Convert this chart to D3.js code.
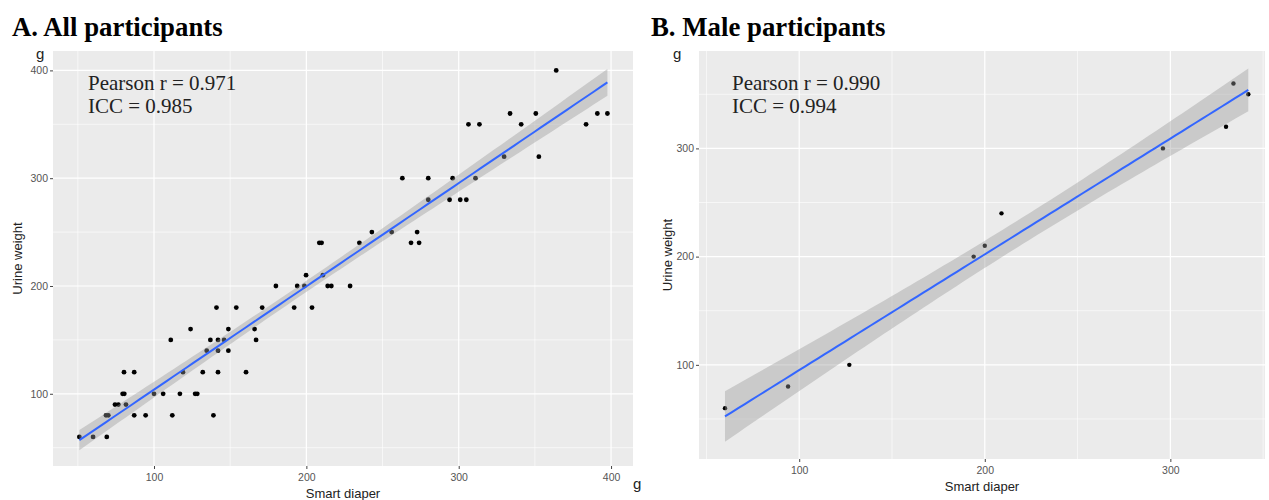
<!DOCTYPE html>
<html>
<head>
<meta charset="utf-8">
<script src="https://cdn.jsdelivr.net/npm/d3@7"></script>
<style>
    body { margin: 0; background: #fff; }
    svg { display: block; }
</style>
</head>
<body>
<script>
// A. all participants (smart diaper g vs urine weight g)
var allSmart = [51, 60, 69,
    68.5, 70, 87, 94.5, 112, 139,
    74.4, 76.6, 81.6,
    79.4, 80.5, 100, 106, 117, 127, 128.4,
    80.3, 87, 119, 132, 142, 160.4,
    134.6, 142, 148.8,
    111, 137, 142, 146, 167,
    124, 148.8, 166,
    141, 154, 171, 192, 203.7,
    180, 194, 198.7, 214, 216.4, 228.7,
    199.8, 210.8,
    208.5, 210, 234.8, 268.7, 274,
    243, 256, 272.7,
    280, 294, 301, 305,
    263, 280, 296, 311,
    329.8, 352.6,
    306.4, 313.6, 341, 383.6,
    333.7, 350.6, 391, 397.6,
    364];
var allUrine = [60, 60, 60,
    80, 80, 80, 80, 80, 80,
    90, 90, 90,
    100, 100, 100, 100, 100, 100, 100,
    120, 120, 120, 120, 120, 120,
    140, 140, 140,
    150, 150, 150, 150, 150,
    160, 160, 160,
    180, 180, 180, 180, 180,
    200, 200, 200, 200, 200, 200,
    210, 210,
    240, 240, 240, 240, 240,
    250, 250, 250,
    280, 280, 280, 280,
    300, 300, 300, 300,
    320, 320,
    350, 350, 350, 350,
    360, 360, 360, 360,
    400];

// B. male participants
var maleSmart = [60, 94, 127, 194, 200, 209, 296, 330, 334, 342];
var maleUrine = [60, 80, 100, 200, 210, 240, 300, 320, 360, 350];

var aTicks = [100, 200, 300, 400], aMinor = [50, 150, 250, 350];
var bTicks = [100, 200, 300], bMinor = [50, 150, 250, 350];
var aStats = ["Pearson r = 0.971", "ICC = 0.985"];
var bStats = ["Pearson r = 0.990", "ICC = 0.994"];

var W = 1269, H = 500;
var svg = d3.select("body").append("svg")
    .attr("width", W)
    .attr("height", H);

// t quantile (0.975) by cornish-fisher expansion
function tq(df) {
    var z = 1.959964;
    return z + (Math.pow(z, 3) + z) / (4 * df)
        + (5 * Math.pow(z, 5) + 16 * Math.pow(z, 3) + 3 * z) / (96 * df * df)
        + (3 * Math.pow(z, 7) + 19 * Math.pow(z, 5) + 17 * Math.pow(z, 3) - 15 * z) / (384 * df * df * df);
}

function fit(xs, ys) {
    var n = xs.length, mx = d3.mean(xs), my = d3.mean(ys);
    var sxx = 0, sxy = 0;
    xs.forEach(function(x, i) { sxx += (x - mx) * (x - mx); sxy += (x - mx) * (ys[i] - my); });
    var b = sxy / sxx, a = my - b * mx;
    var sse = d3.sum(xs, function(x, i) { return Math.pow(ys[i] - a - b * x, 2); });
    var s = Math.sqrt(sse / (n - 2)), t = tq(n - 2);
    var lo = d3.min(xs), hi = d3.max(xs);
    return d3.range(80).map(function(k) {
        var x = lo + (hi - lo) * k / 79;
        var yh = a + b * x;
        var se = s * Math.sqrt(1 / n + (x - mx) * (x - mx) / sxx);
        return {x: x, y: yh, y0: yh - t * se, y1: yh + t * se};
    });
}

function panel(o) {
    var x = d3.scaleLinear().domain(o.xDom).range([o.left, o.right]);
    var y = d3.scaleLinear().domain(o.yDom).range([o.bottom, o.top]);
    var g = svg.append("g");

    g.append("rect")
        .attr("x", o.left).attr("y", o.top)
        .attr("width", o.right - o.left).attr("height", o.bottom - o.top)
        .attr("fill", "#ebebeb");

    g.selectAll(".vminor").data(o.minor.filter(function(d) { return d > o.xDom[0] && d < o.xDom[1]; }))
        .enter().append("line")
        .attr("x1", x).attr("x2", x).attr("y1", o.top).attr("y2", o.bottom)
        .attr("stroke", "#fff").attr("stroke-width", 0.6);
    g.selectAll(".hminor").data(o.minor.filter(function(d) { return d > o.yDom[0] && d < o.yDom[1]; }))
        .enter().append("line")
        .attr("y1", y).attr("y2", y).attr("x1", o.left).attr("x2", o.right)
        .attr("stroke", "#fff").attr("stroke-width", 0.6);
    g.selectAll(".vmajor").data(o.ticks)
        .enter().append("line")
        .attr("x1", x).attr("x2", x).attr("y1", o.top).attr("y2", o.bottom)
        .attr("stroke", "#fff").attr("stroke-width", 1.2);
    g.selectAll(".hmajor").data(o.ticks.filter(function(d) { return d < o.yDom[1]; }))
        .enter().append("line")
        .attr("y1", y).attr("y2", y).attr("x1", o.left).attr("x2", o.right)
        .attr("stroke", "#fff").attr("stroke-width", 1.2);

    // axes
    var ax = g.append("g")
        .attr("transform", "translate(0," + o.bottom + ")")
        .call(d3.axisBottom(x).tickValues(o.ticks).tickSize(3).tickPadding(5));
    var ay = g.append("g")
        .attr("transform", "translate(" + o.left + ",0)")
        .call(d3.axisLeft(y).tickValues(o.ticks.filter(function(d) { return d < o.yDom[1]; })).tickSize(3).tickPadding(2));
    [ax, ay].forEach(function(a) {
        a.select(".domain").remove();
        a.selectAll(".tick line").attr("stroke", "#444");
        a.selectAll(".tick text")
            .attr("fill", "#555")
            .style("font-family", "'Liberation Sans', Arial, sans-serif")
            .style("font-size", "10.5px");
    });

    // points
    g.selectAll(".pt").data(o.xs)
        .enter().append("circle")
        .attr("cx", function(d) { return x(d); })
        .attr("cy", function(d, i) { return y(o.ys[i]); })
        .attr("r", o.r)
        .attr("fill", "#000");

    // lm fit with 95% band
    var band = fit(o.xs, o.ys);
    g.append("path")
        .datum(band)
        .attr("d", d3.area().x(function(d) { return x(d.x); }).y0(function(d) { return y(d.y0); }).y1(function(d) { return y(d.y1); }))
        .attr("fill", "#999")
        .attr("fill-opacity", 0.4);
    g.append("path")
        .datum(band)
        .attr("d", d3.line().x(function(d) { return x(d.x); }).y(function(d) { return y(d.y); }))
        .attr("fill", "none")
        .attr("stroke", "#3366ff")
        .attr("stroke-width", 2);

    // labels
    g.append("text")
        .attr("x", o.titleX).attr("y", 36)
        .text(o.title)
        .style("font-family", "'Liberation Serif', 'Times New Roman', serif")
        .style("font-weight", "bold")
        .style("font-size", "26.8px");
    g.selectAll(".stat").data(o.stats)
        .enter().append("text")
        .attr("x", o.statX)
        .attr("y", function(d, i) { return 90 + i * 23; })
        .text(function(d) { return d; })
        .attr("fill", "#222")
        .style("font-family", "'Liberation Serif', 'Times New Roman', serif")
        .style("font-size", "21px");
    g.append("text")
        .attr("transform", "translate(" + o.yLabX + "," + (o.top + o.bottom) / 2 + ") rotate(-90)")
        .attr("text-anchor", "middle")
        .text("Urine weight")
        .attr("fill", "#222")
        .style("font-family", "'Liberation Sans', Arial, sans-serif")
        .style("font-size", "13px");
    g.append("text")
        .attr("x", (o.left + o.right) / 2).attr("y", o.bottom + 32)
        .attr("text-anchor", "middle")
        .text("Smart diaper")
        .attr("fill", "#222")
        .style("font-family", "'Liberation Sans', Arial, sans-serif")
        .style("font-size", "13px");
    g.append("text")
        .attr("x", o.gX).attr("y", 59)
        .text("g")
        .attr("fill", "#222")
        .style("font-family", "'Liberation Sans', Arial, sans-serif")
        .style("font-size", "15px");
    return g;
}

panel({
    left: 53, right: 633, top: 51, bottom: 466,
    xDom: [33.7, 414.4], yDom: [33, 418],
    xs: allSmart, ys: allUrine, r: 2.4,
    ticks: aTicks, minor: aMinor,
    title: "A. All participants", titleX: 12,
    stats: aStats, statX: 88, yLabX: 22, gX: 36
});

panel({
    left: 699, right: 1265, top: 51, bottom: 459,
    xDom: [46, 351], yDom: [13, 390],
    xs: maleSmart, ys: maleUrine, r: 2.2,
    ticks: bTicks, minor: bMinor,
    title: "B. Male participants", titleX: 651,
    stats: bStats, statX: 732, yLabX: 672, gX: 673
});

// x unit label, shared corner
svg.append("text")
    .attr("x", 633).attr("y", 489)
    .text("g")
    .attr("fill", "#222")
    .style("font-family", "'Liberation Sans', Arial, sans-serif")
    .style("font-size", "15px");
</script>
</body>
</html>
